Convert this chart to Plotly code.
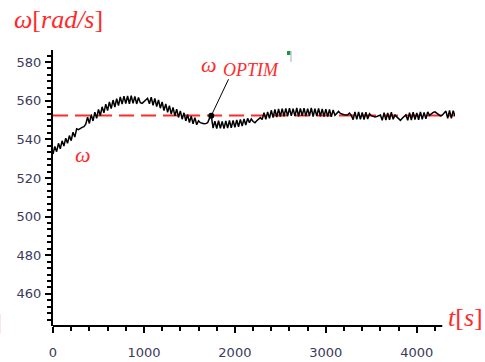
import plotly.graph_objects as go

# ---- data ----
t_step = 20
t_values = list(range(0, 4421, t_step))
omega = [
    532.4, 536.3, 533.6, 537.9, 535.1, 539.2, 536.5, 540.6, 537.9, 541.9,
    539.3, 543.7, 541.2, 545.4, 545.0, 545.8, 546.2, 546.5, 547.8, 551.4,
    548.2, 552.8, 549.5, 554.0, 550.9, 555.5, 552.3, 556.8, 553.7, 558.2,
    554.9, 559.3, 555.9, 560.3, 556.7, 561.0, 557.4, 561.9, 558.2, 562.3,
    558.5, 562.4, 558.4, 562.6, 558.6, 562.2, 558.3, 561.6, 558.9, 558.6,
    559.4, 560.6, 561.2, 558.4, 561.8, 557.6, 561.2, 556.9, 560.4, 556.1,
    559.3, 554.9, 558.3, 554.0, 557.4, 553.0, 556.5, 552.2, 555.6, 551.3,
    554.7, 550.4, 553.7, 549.5, 552.8, 548.7, 552.0, 548.0, 551.2, 547.5,
    549.6, 548.6, 548.2, 548.0, 548.1, 548.6, 550.8, 552.2, 545.8, 549.4,
    545.6, 549.6, 545.7, 549.3, 545.5, 549.5, 545.8, 549.7, 545.9, 549.8,
    546.2, 550.0, 546.5, 550.3, 546.9, 550.5, 547.4, 550.8, 548.6, 550.5,
    549.2, 548.6, 549.6, 550.6, 551.2, 550.2, 553.8, 550.3, 554.2, 550.8,
    555.0, 551.2, 555.4, 551.5, 555.7, 551.8, 555.9, 551.9, 556.0, 552.0,
    556.1, 552.1, 555.9, 552.0, 556.2, 551.9, 556.0, 552.2, 556.1, 552.0,
    555.9, 552.1, 556.2, 551.8, 555.8, 552.0, 556.0, 551.9, 555.7, 551.8,
    555.6, 551.7, 555.4, 551.6, 555.2, 552.4, 553.6, 554.4, 553.4, 552.9,
    552.7, 552.6, 552.7, 553.6, 552.4, 550.2, 554.2, 550.3, 554.1, 550.4,
    553.9, 550.2, 554.0, 550.5, 553.2, 552.2, 551.7, 551.6, 551.8, 552.3,
    552.6, 549.8, 553.8, 549.9, 553.6, 550.1, 554.0, 550.4, 552.5, 551.6,
    550.6, 549.8, 550.9, 552.0, 552.6, 549.8, 553.8, 550.0, 554.0, 550.2,
    553.7, 550.1, 554.1, 550.4, 553.9, 550.6, 554.2, 552.4, 553.2, 553.9,
    554.2, 553.6, 552.6, 552.1, 552.5, 553.4, 554.6, 550.9, 555.0, 550.8,
    554.8, 552.0,
]
omega_optim = 552.3
optim_point_t = 1740
optim_point_w = 552.2

x_major = [0, 1000, 2000, 3000, 4000]
x_minor = list(range(0, 4201, 200))
y_major = [460, 480, 500, 520, 540, 560, 580]

x_range = [0, 4420]
x_axis_end = 4280
y_range = [443.4, 586.2]

RED = "#ff2a2a"
TICK_COLOR = "#3a3a5a"

fig = go.Figure()

fig.add_trace(go.Scatter(
    x=[t_values[0], t_values[-1]], y=[omega_optim, omega_optim],
    mode="lines", line=dict(color=RED, width=2, dash="15px,7px"),
    hoverinfo="skip", showlegend=False,
))
fig.add_trace(go.Scatter(
    x=t_values, y=omega, mode="lines",
    line=dict(color="black", width=1.5),
    showlegend=False,
))
fig.add_trace(go.Scatter(
    x=[optim_point_t], y=[optim_point_w], mode="markers",
    marker=dict(color="black", size=6), showlegend=False,
))

W, H = 485, 362
ml, mr, mt, mb = 53, 30, 50, 36
pw, ph = W - ml - mr, H - mt - mb


def px(x):
    return (x - ml) / pw


def py(y):
    return (H - mb - y) / ph


serif = "Liberation Serif"
annotations = [
    dict(x=px(12), y=py(20), xref="paper", yref="paper", xanchor="left", yanchor="middle",
         text="<i>ω</i>[<i>rad/s</i>]", showarrow=False,
         font=dict(family=serif, size=26, color=RED)),
    dict(x=px(446), y=py(317), xref="paper", yref="paper", xanchor="left", yanchor="middle",
         text="<i>t</i>[<i>s</i>]", showarrow=False,
         font=dict(family=serif, size=26, color=RED)),
    dict(x=px(83), y=py(154), xref="paper", yref="paper", xanchor="center", yanchor="middle",
         text="<i>ω</i>", showarrow=False,
         font=dict(family=serif, size=22, color=RED)),
    dict(x=px(209), y=py(64), xref="paper", yref="paper", xanchor="center", yanchor="middle",
         text="<i>ω</i>", showarrow=False,
         font=dict(family=serif, size=22, color=RED)),
    dict(x=px(221), y=py(70), xref="paper", yref="paper", xanchor="left", yanchor="middle",
         text="<i>OPTIM</i>", showarrow=False,
         font=dict(family=serif, size=18, color=RED)),
    dict(x=optim_point_t, y=optim_point_w, xref="x", yref="y", text="",
         showarrow=True, arrowhead=0, arrowwidth=1, arrowcolor="black",
         ax=18, ay=-38, standoff=0),
    dict(x=px(4), y=py(322), xref="paper", yref="paper", xanchor="right", yanchor="middle",
         text="]", showarrow=False,
         font=dict(family=serif, size=24, color="#ff9900")),
]

shapes = [
    dict(type="line", xref="x", yref="paper", x0=0, x1=x_axis_end, y0=0, y1=0,
         line=dict(color="black", width=2)),
    dict(type="rect", xref="paper", yref="paper", x0=px(287), x1=px(290.5), y0=py(55), y1=py(51),
         line=dict(width=0), fillcolor="#1a9a3a"),
    dict(type="line", xref="paper", yref="paper", x0=px(291), x1=px(291), y0=py(62), y1=py(51),
         line=dict(color="#9ab0c8", width=1)),
]

fig.update_layout(
    width=W, height=H,
    margin=dict(l=ml, r=mr, t=mt, b=mb),
    paper_bgcolor="white", plot_bgcolor="white",
    showlegend=False,
    annotations=annotations,
    shapes=shapes,
    xaxis=dict(
        range=x_range, showgrid=False, zeroline=False, showline=False,
        automargin=False,
        tickmode="array", tickvals=x_major, ticktext=[str(v) for v in x_major],
        ticks="outside", ticklen=6, tickwidth=1.5, tickcolor="black",
        ticklabelstandoff=8,
        minor=dict(tickmode="array", tickvals=x_minor, ticks="outside", ticklen=4,
                   tickwidth=1.5, tickcolor="black", showgrid=False),
        tickfont=dict(family="DejaVu Sans", size=13, color=TICK_COLOR),
    ),
    yaxis=dict(
        range=y_range, showgrid=False, zeroline=False, showline=True,
        automargin=False,
        linecolor="black", linewidth=2,
        tickmode="array", tickvals=y_major, ticktext=[str(v) for v in y_major],
        ticks="outside", ticklen=6, tickwidth=1.5, tickcolor="black",
        ticklabelstandoff=1,
        minor=dict(dtick=10 / 3, tick0=440, ticks="outside", ticklen=4,
                   tickwidth=1.5, tickcolor="black", showgrid=False),
        tickfont=dict(family="DejaVu Sans", size=13, color=TICK_COLOR),
    ),
)

fig.write_html("out.html")
